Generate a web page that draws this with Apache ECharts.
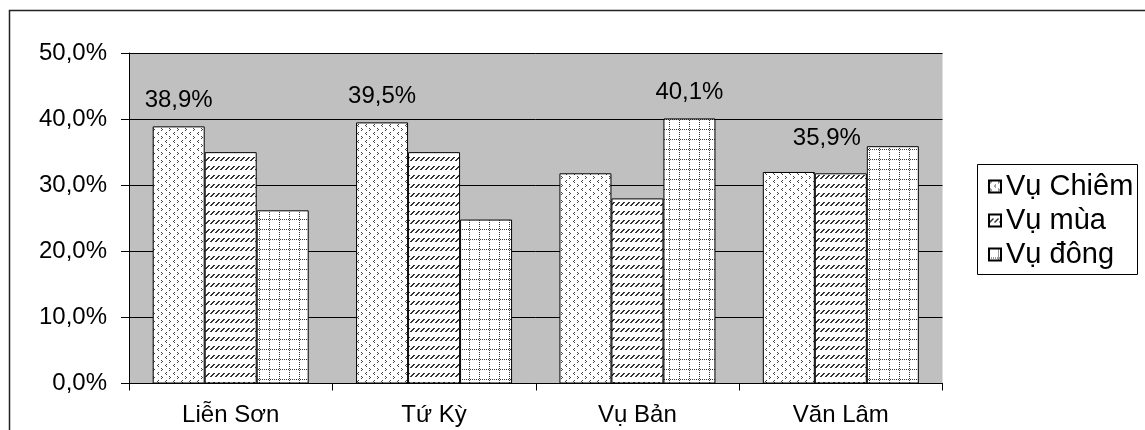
<!DOCTYPE html>
<html>
<head>
<meta charset="utf-8">
<script src="https://cdn.jsdelivr.net/npm/echarts@6/dist/echarts.min.js"></script>
<style>
  html, body { margin: 0; padding: 0; background: #fff; }
  #chart { width: 1145px; height: 430px; }
</style>
</head>
<body>
<div id="chart"></div>
<script>
// Share of each crop season per commune (percent)
const categories = ['Liễn Sơn', 'Tứ Kỳ', 'Vụ Bản', 'Văn Lâm'];
const seriesNames = ['Vụ Chiêm', 'Vụ mùa', 'Vụ đông'];
const vuChiem = [38.9, 39.5, 31.8, 32.0];
const vuMua   = [35.0, 35.0, 28.0, 31.8];
const vuDong  = [26.2, 24.8, 40.1, 35.9];
const yMin = 0, yMax = 50, yStep = 10;

const FONT = "'Liberation Sans', Arial, sans-serif";
const fmtPct = v => v.toFixed(1).replace('.', ',') + '%';

// Monochrome fill patterns drawn on small canvas tiles
function tile(w, h, pixels, ink) {
  const c = document.createElement('canvas');
  c.width = w; c.height = h;
  const g = c.getContext('2d');
  g.fillStyle = '#fff';
  g.fillRect(0, 0, w, h);
  g.fillStyle = ink;
  pixels.forEach(([x, y]) => g.fillRect(x, y, 1, 1));
  return { image: c, repeat: 'repeat' };
}
// small chevrons
const patChevron = tile(8, 8, [[1,0],[2,1],[1,2],[6,4],[5,5],[6,6]], '#444');
// short slanted strokes in rows
const patSlash = tile(5, 9, [[4,4],[3,5],[2,6],[1,7],[3,4],[2,5],[1,6],[0,7]], '#333');
// dotted grid
const gridPx = [];
for (let i = 0; i < 10; i += 2) { gridPx.push([i, 9]); gridPx.push([9, i]); }
const patGrid = tile(10, 10, gridPx, '#333');
const patterns = [patChevron, patSlash, patGrid];

const values = [vuChiem, vuMua, vuDong];

// the tallest bar of each commune carries its value label
const labelOffsetByCategory = { 3: [-66, 18] };
function buildData(sIdx) {
  return values[sIdx].map((v, cIdx) => {
    const col = values.map(arr => arr[cIdx]);
    const isMax = v === Math.max(...col);
    return {
      value: v,
      label: {
        show: isMax,
        position: 'top',
        distance: 14,
        offset: labelOffsetByCategory[cIdx] || [0, 0],
        formatter: p => fmtPct(p.value),
        fontFamily: FONT,
        fontSize: 24,
        color: '#000'
      }
    };
  });
}

const chart = echarts.init(document.getElementById('chart'));
chart.setOption({
  animation: false,
  backgroundColor: '#fff',
  textStyle: { fontFamily: FONT, color: '#000' },
  grid: {
    left: 129, top: 53, right: 1145 - 942.5, bottom: 46.5,
    show: true, backgroundColor: '#c0c0c0', borderWidth: 0
  },
  legend: {
    orient: 'vertical',
    left: 983, top: 167,
    itemWidth: 12, itemHeight: 12, itemGap: 5,
    icon: 'rect',
    textStyle: { fontFamily: FONT, fontSize: 29, color: '#000' },
    data: seriesNames
  },
  xAxis: {
    type: 'category',
    data: categories,
    axisLine: { lineStyle: { color: '#000', width: 1 } },
    axisTick: { show: true, length: 7, lineStyle: { color: '#000' } },
    axisLabel: { fontFamily: FONT, fontSize: 24, color: '#000', margin: 20 }
  },
  yAxis: {
    type: 'value',
    min: yMin, max: yMax, interval: yStep,
    axisLine: { show: true, lineStyle: { color: '#000', width: 1 } },
    axisTick: { show: true, length: 8, lineStyle: { color: '#000' } },
    splitLine: { lineStyle: { color: '#000', width: 1 } },
    axisLabel: { fontFamily: FONT, fontSize: 24, color: '#000', margin: 22, formatter: v => fmtPct(v) }
  },
  series: seriesNames.map((name, i) => ({
    name,
    type: 'bar',
    barWidth: 52,
    barGap: '0%',
    itemStyle: { color: patterns[i], borderColor: '#000', borderWidth: 1 },
    emphasis: { disabled: true },
    data: buildData(i)
  })),
  graphic: [
    {
      type: 'rect', silent: true,
      shape: { x: 9.5, y: 10.5, width: 1300, height: 600 },
      style: { fill: 'none', stroke: '#222', lineWidth: 1.5 }
    },
    {
      type: 'rect', silent: true,
      shape: { x: 977.5, y: 164.5, width: 160, height: 110 },
      style: { fill: 'none', stroke: '#000', lineWidth: 1 }
    }
  ]
});
</script>
</body>
</html>
